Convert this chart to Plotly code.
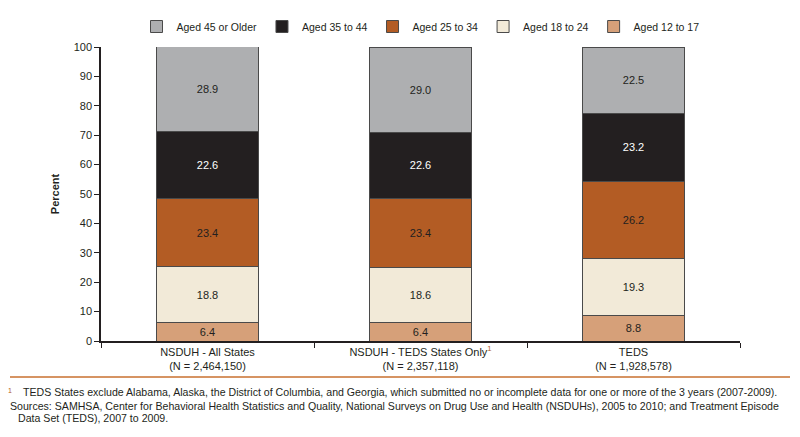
import plotly.graph_objects as go

categories = [
    "NSDUH - All States<br>(N = 2,464,150)",
    "NSDUH - TEDS States Only<sup><span style='color:#B35C23'>1</span></sup><br>(N = 2,357,118)",
    "TEDS<br>(N = 1,928,578)",
]
series_names = ["Aged 12 to 17", "Aged 18 to 24", "Aged 25 to 34", "Aged 35 to 44", "Aged 45 or Older"]
aged_12_17 = [6.4, 6.4, 8.8]
aged_18_24 = [18.8, 18.6, 19.3]
aged_25_34 = [23.4, 23.4, 26.2]
aged_35_44 = [22.6, 22.6, 23.2]
aged_45_plus = [28.9, 29.0, 22.5]
y_ticks = [0, 10, 20, 30, 40, 50, 60, 70, 80, 90, 100]

values = [aged_12_17, aged_18_24, aged_25_34, aged_35_44, aged_45_plus]
colors = ["#D6A079", "#F2EAD8", "#B35C24", "#231F20", "#AEAFB1"]
text_colors = ["#231F20", "#231F20", "#231F20", "#FFFFFF", "#231F20"]

FONT = "Liberation Sans, Arial, sans-serif"

# page has an 8px body margin: figure is 792x429 and drawn at (8, 8)
W, H = 792, 429
OFF = 8
L, R, T, B = 93, 60, 39, 96
PW, PH = W - L - R, H - T - B

fig = go.Figure()
for name, vals, col, tcol in zip(series_names, values, colors, text_colors):
    fig.add_trace(go.Bar(
        x=categories, y=vals, name=name,
        marker=dict(color=col, line=dict(color="#4a4a4a", width=1)),
        texttemplate="%{y:.1f}", textposition="inside", insidetextanchor="middle",
        textfont=dict(color=tcol, size=11, family=FONT),
        textangle=0, constraintext="none",
        width=0.48,
    ))

fig.update_layout(
    barmode="stack",
    width=W, height=H,
    margin=dict(l=L, r=R, t=T, b=B, autoexpand=False),
    paper_bgcolor="white", plot_bgcolor="white",
    font=dict(family=FONT, size=11, color="#231F20"),
    showlegend=True,
    legend=dict(orientation="h", traceorder="reversed", x=0.5, xanchor="center",
                y=1 - 4/H, yanchor="top", yref="container",
                font=dict(size=10.5, family=FONT), itemwidth=30),
    uniformtext=dict(minsize=8, mode="show"),
)
fig.update_xaxes(
    showline=True, linecolor="#231F20", linewidth=1.5,
    ticks="outside", tickson="boundaries", ticklen=5, tickcolor="#231F20",
    tickfont=dict(size=11, family=FONT),
)
fig.update_yaxes(
    range=[0, 100], tickvals=y_ticks, showgrid=False, zeroline=False,
    showline=True, linecolor="#231F20", linewidth=1.5,
    ticks="outside", ticklen=5, tickcolor="#231F20",
    title=dict(text="<b>Percent</b>", font=dict(size=11, family=FONT), standoff=12),
    tickfont=dict(size=11, family=FONT),
)

def px(x_page):
    return (x_page - OFF - L) / PW

def py(y_page):
    return (H - B - (y_page - OFF)) / PH

fig.add_shape(type="line", xref="paper", yref="paper",
              x0=px(10), x1=px(790), y0=py(377), y1=py(377),
              line=dict(color="#C9702F", width=1.5))

note_font = dict(size=10.6, family=FONT, color="#231F20")
fig.add_annotation(
    xref="paper", yref="paper", x=px(10), y=py(390),
    xanchor="center", yanchor="middle", showarrow=False,
    text="<span style='color:#B35C23'>1</span>",
    font=dict(size=7, family=FONT, color="#B35C23"),
)
fig.add_annotation(
    xref="paper", yref="paper", x=px(21), y=py(392),
    xanchor="left", yanchor="middle", showarrow=False, align="left",
    text="TEDS States exclude Alabama, Alaska, the District of Columbia, and Georgia, which submitted no or incomplete data for one or more of the 3 years (2007-2009).",
    font=note_font,
)
fig.add_annotation(
    xref="paper", yref="paper", x=px(8), y=py(406),
    xanchor="left", yanchor="middle", showarrow=False, align="left",
    text="Sources: SAMHSA, Center for Behavioral Health Statistics and Quality, National Surveys on Drug Use and Health (NSDUHs), 2005 to 2010; and Treatment Episode",
    font=note_font,
)
fig.add_annotation(
    xref="paper", yref="paper", x=px(16), y=py(418),
    xanchor="left", yanchor="middle", showarrow=False, align="left",
    text="Data Set (TEDS), 2007 to 2009.",
    font=note_font,
)

fig.write_html("out.html")
